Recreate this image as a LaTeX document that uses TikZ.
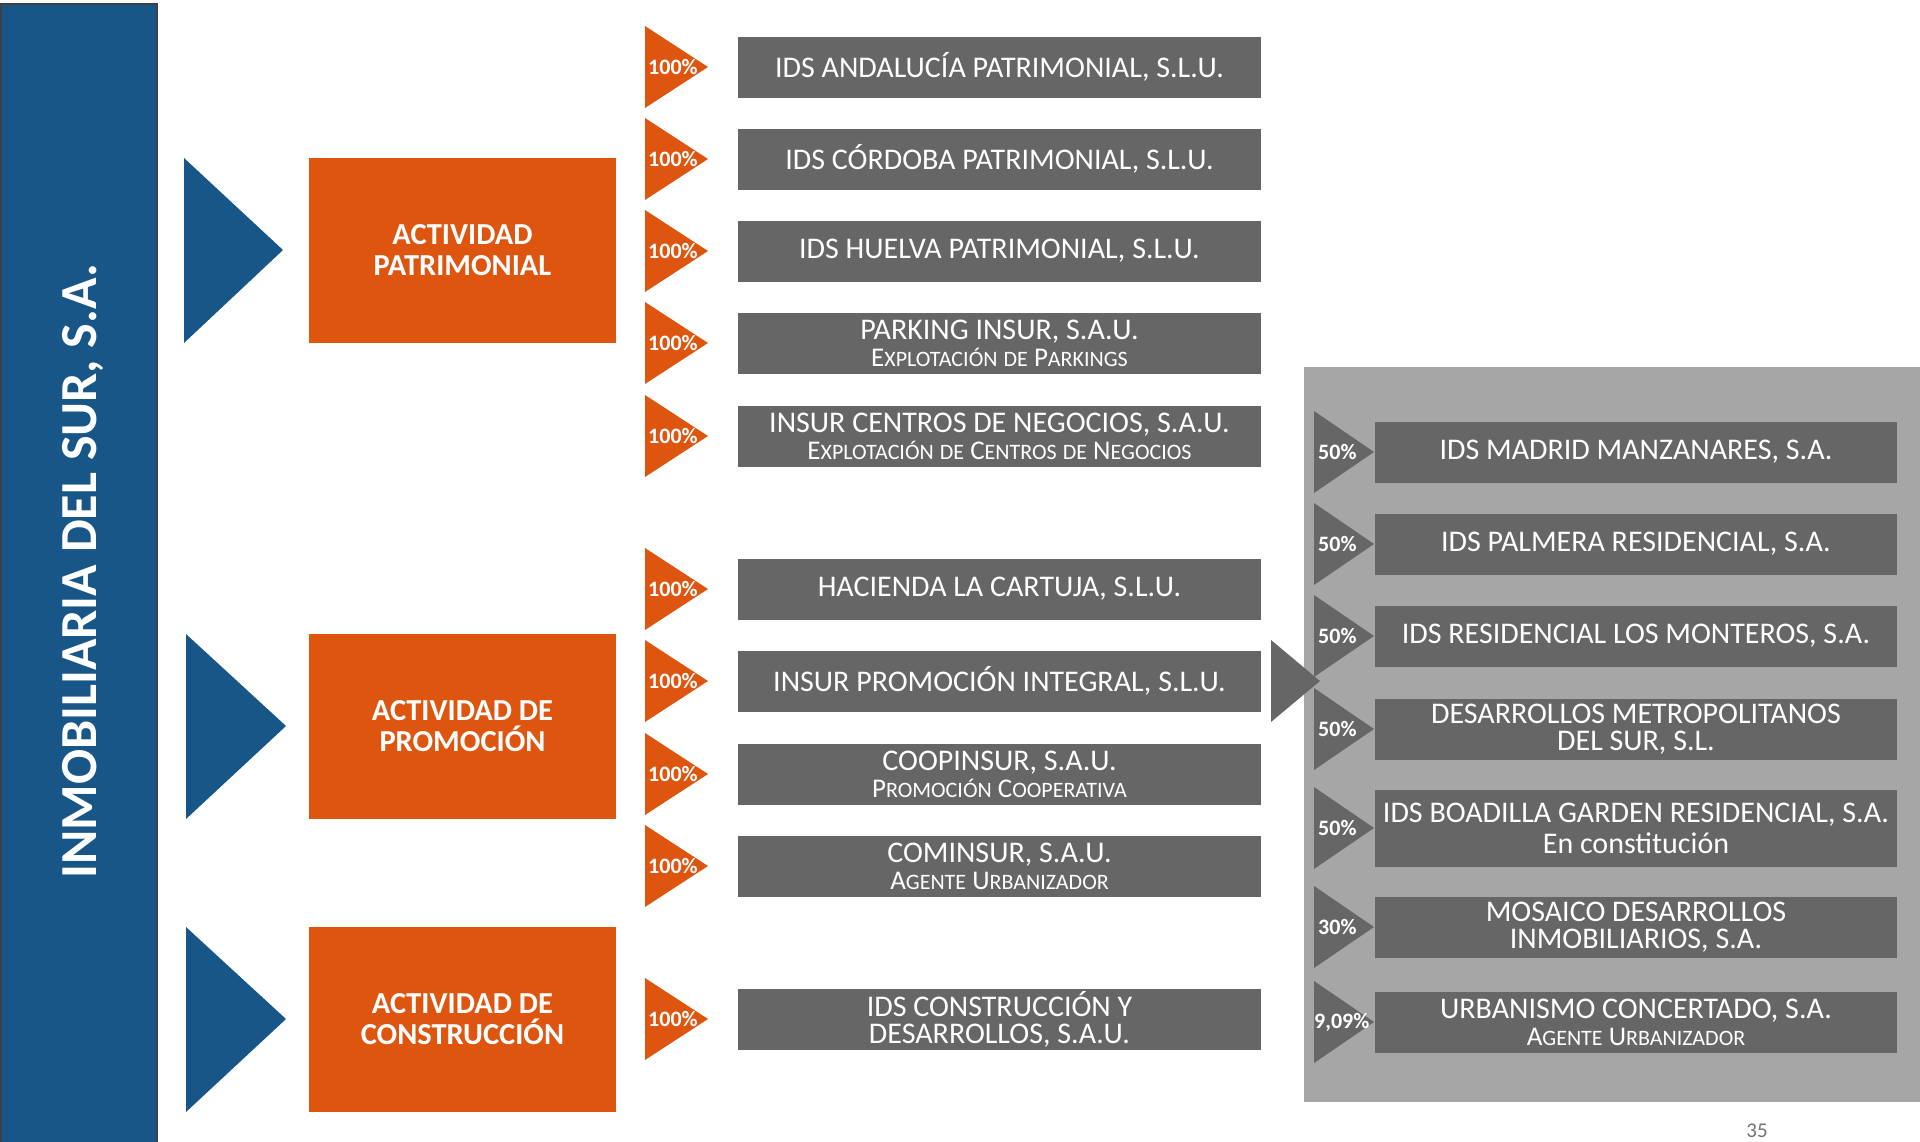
\documentclass[tikz,border=0pt]{standalone}
\usepackage{fontspec}
\setmainfont{Carlito}

\definecolor{insurblue}{RGB}{24,86,136}
\definecolor{insurorange}{RGB}{222,85,16}
\definecolor{boxgray}{RGB}{102,102,102}
\definecolor{panelgray}{RGB}{167,166,167}

\newcommand{\lc}[1]{{\fontsize{22}{27}\selectfont #1}}
\newcommand{\sub}[1]{{\fontsize{27}{27}\selectfont #1}}

\begin{document}
\begin{tikzpicture}[x=1pt,y=-1pt,
  gbox/.style={fill=boxgray,text=white,minimum width=523pt,minimum height=61pt,inner sep=0pt,align=center,font=\fontsize{30}{27}\selectfont},
  obox/.style={fill=insurorange,text=white,minimum width=307pt,minimum height=185pt,inner sep=0pt,align=center,font=\bfseries\fontsize{30.5}{31}\selectfont},
  pct/.style={text=white,anchor=west,inner sep=0pt,font=\bfseries\fontsize{22}{22}\selectfont}]

  \useasboundingbox (0,0) rectangle (1920,1141);

  % parent company bar
  \draw[fill=insurblue,draw=black!75,line width=1.5pt] (1,4) rectangle (157,1145);
  \node[rotate=90,text=white,font=\bfseries\fontsize{52}{52}\selectfont] (insur) at (83,571) {INMOBILIARIA DEL SUR, S.A.};

  % blue arrows and activities
  \fill[insurblue] (184,158) -- (283,250) -- (184,343) -- cycle;
  \fill[insurblue] (186,634) -- (286,726) -- (186,819) -- cycle;
  \fill[insurblue] (186,927) -- (286,1019) -- (186,1112) -- cycle;

  \node[obox] (patrimonial) at (462.5,250.5) {ACTIVIDAD\\PATRIMONIAL};
  \node[obox] (promocion) at (462.5,726.5) {ACTIVIDAD DE\\PROMOCIÓN};
  \node[obox] (construccion) at (462.5,1019.5) {ACTIVIDAD DE\\CONSTRUCCIÓN};

  % orange arrows
  \fill[insurorange] (645,26) -- (708,67) -- (645,108) -- cycle;
  \fill[insurorange] (645,118) -- (708,159) -- (645,200) -- cycle;
  \fill[insurorange] (645,210) -- (708,251) -- (645,292) -- cycle;
  \fill[insurorange] (645,302) -- (708,343) -- (645,384) -- cycle;
  \fill[insurorange] (645,395) -- (708,436) -- (645,477) -- cycle;
  \fill[insurorange] (645,548) -- (708,589) -- (645,630) -- cycle;
  \fill[insurorange] (645,640) -- (708,681) -- (645,722) -- cycle;
  \fill[insurorange] (645,733) -- (708,774) -- (645,815) -- cycle;
  \fill[insurorange] (645,825) -- (708,866) -- (645,907) -- cycle;
  \fill[insurorange] (645,978) -- (708,1019) -- (645,1060) -- cycle;

  \node[pct] (p1) at (648,67) {100\%};
  \node[pct] (p2) at (648,159) {100\%};
  \node[pct] (p3) at (648,251) {100\%};
  \node[pct] (p4) at (648,343) {100\%};
  \node[pct] (p5) at (648,436) {100\%};
  \node[pct] (p6) at (648,589) {100\%};
  \node[pct] (p7) at (648,681) {100\%};
  \node[pct] (p8) at (648,774) {100\%};
  \node[pct] (p9) at (648,866) {100\%};
  \node[pct] (p10) at (648,1019) {100\%};

  % subsidiaries
  \node[gbox] (andalucia) at (999.5,67) {IDS ANDALUCÍA PATRIMONIAL, S.L.U.};
  \node[gbox] (cordoba) at (999.5,159) {IDS CÓRDOBA PATRIMONIAL, S.L.U.};
  \node[gbox] (huelva) at (999.5,251) {IDS HUELVA PATRIMONIAL, S.L.U.};
  \node[gbox] (parking) at (999.5,343) {PARKING INSUR, S.A.U.\\\sub{E\lc{XPLOTACIÓN} \lc{DE} P\lc{ARKINGS}}};
  \node[gbox] (centros) at (999.5,436) {INSUR CENTROS DE NEGOCIOS, S.A.U.\\\sub{E\lc{XPLOTACIÓN} \lc{DE} C\lc{ENTROS} \lc{DE} N\lc{EGOCIOS}}};
  \node[gbox] (cartuja) at (999.5,589) {HACIENDA LA CARTUJA, S.L.U.};
  \node[gbox] (integral) at (999.5,681) {INSUR PROMOCIÓN INTEGRAL, S.L.U.};
  \node[gbox] (coopinsur) at (999.5,774) {COOPINSUR, S.A.U.\\\sub{P\lc{ROMOCIÓN} C\lc{OOPERATIVA}}};
  \node[gbox] (cominsur) at (999.5,866) {COMINSUR, S.A.U.\\\sub{A\lc{GENTE} U\lc{RBANIZADOR}}};
  \node[gbox] (idscons) at (999.5,1019) {IDS CONSTRUCCIÓN Y\\DESARROLLOS, S.A.U.};

  % joint ventures panel
  \fill[panelgray] (1304,367) rectangle (1920,1102);
  \fill[boxgray] (1271,640) -- (1320,681) -- (1271,722) -- cycle;

  \fill[boxgray] (1314,411) -- (1374,452) -- (1314,493) -- cycle;
  \fill[boxgray] (1314,503) -- (1374,544) -- (1314,585) -- cycle;
  \fill[boxgray] (1314,595) -- (1374,636) -- (1314,677) -- cycle;
  \fill[boxgray] (1314,688) -- (1374,729) -- (1314,770) -- cycle;
  \fill[boxgray] (1314,787) -- (1374,828) -- (1314,869) -- cycle;
  \fill[boxgray] (1314,886) -- (1374,927) -- (1314,968) -- cycle;
  \fill[boxgray] (1314,981) -- (1374,1022) -- (1314,1063) -- cycle;

  \node[pct] (q1) at (1318,452) {50\%};
  \node[pct] (q2) at (1318,544) {50\%};
  \node[pct] (q3) at (1318,636) {50\%};
  \node[pct] (q4) at (1318,729) {50\%};
  \node[pct] (q5) at (1318,828) {50\%};
  \node[pct] (q6) at (1318,927) {30\%};
  \node[pct] (q7) at (1314,1022) {9,09\%};

  \node[gbox,minimum width=522pt] (madrid) at (1636,452) {IDS MADRID MANZANARES, S.A.};
  \node[gbox,minimum width=522pt] (palmera) at (1636,544) {IDS PALMERA RESIDENCIAL, S.A.};
  \node[gbox,minimum width=522pt] (monteros) at (1636,636) {IDS RESIDENCIAL LOS MONTEROS, S.A.};
  \node[gbox,minimum width=522pt] (metropolitanos) at (1636,729) {DESARROLLOS METROPOLITANOS\\DEL SUR, S.L.};
  \node[gbox,minimum width=522pt,minimum height=77pt,font=\fontsize{30}{31}\selectfont] (boadilla) at (1636,828) {IDS BOADILLA GARDEN RESIDENCIAL, S.A.\\En constitución};
  \node[gbox,minimum width=522pt] (mosaico) at (1636,927) {MOSAICO DESARROLLOS\\INMOBILIARIOS, S.A.};
  \node[gbox,minimum width=522pt] (urbanismo) at (1636,1022) {URBANISMO CONCERTADO, S.A.\\\sub{A\lc{GENTE} U\lc{RBANIZADOR}}};

  \node[text=black!55,font=\fontsize{21}{21}\selectfont] (pagenum) at (1757,1131) {35};
\end{tikzpicture}
\end{document}
